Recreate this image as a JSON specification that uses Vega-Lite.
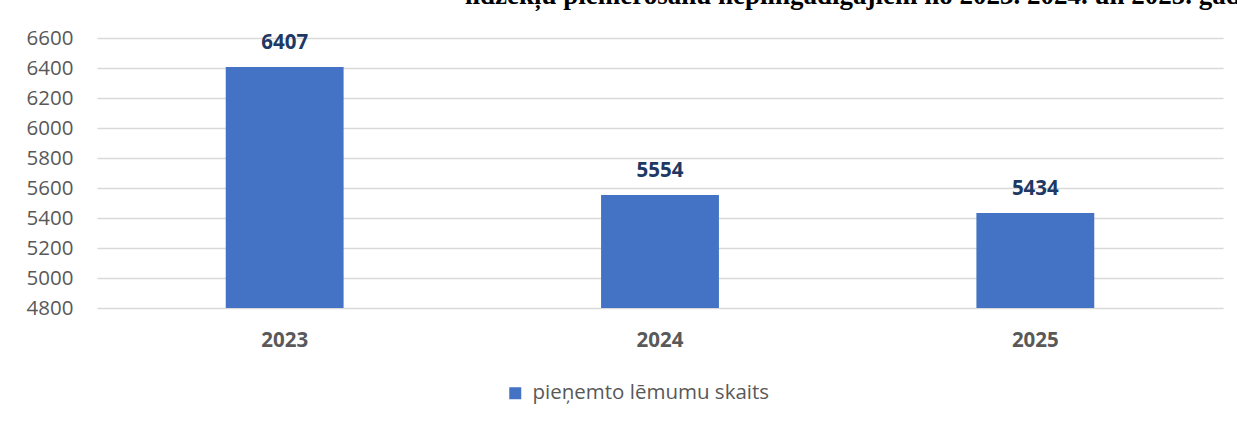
{
  "$schema": "https://vega.github.io/schema/vega-lite/v6.json",
  "width": 1126,
  "height": 270,
  "autosize": {"type": "none"},
  "padding": {"left": 97, "top": 38, "right": 14, "bottom": 115},
  "background": "white",
  "title": {
    "text": "līdzekļu piemērošanu nepilngadīgajiem no 2023. 2024. un 2025. gadam",
    "anchor": "start",
    "frame": "group",
    "font": "Liberation Serif",
    "fontWeight": "bold",
    "fontSize": 27,
    "color": "#000000",
    "baseline": "alphabetic",
    "dx": 368,
    "dy": 3,
    "offset": 0
  },
  "config": {
    "view": {"stroke": null},
    "font": "Open Sans"
  },
  "data": {
    "values": [
      {"gads": "2023", "skaits": 6407},
      {"gads": "2024", "skaits": 5554},
      {"gads": "2025", "skaits": 5434}
    ]
  },
  "encoding": {
    "x": {
      "field": "gads",
      "type": "nominal",
      "scale": {"paddingInner": 0.686, "paddingOuter": 0.343},
      "axis": {
        "title": null,
        "domain": false,
        "ticks": false,
        "grid": false,
        "labelAngle": 0,
        "labelFont": "Open Sans",
        "labelFontWeight": "bold",
        "labelFontSize": 20.5,
        "labelColor": "#595959",
        "labelPadding": 22
      }
    },
    "y": {
      "field": "skaits",
      "type": "quantitative",
      "scale": {"domain": [4800, 6600], "zero": false, "nice": false},
      "axis": {
        "title": null,
        "domain": false,
        "ticks": false,
        "grid": true,
        "gridColor": "#D9D9D9",
        "gridWidth": 1.3,
        "values": [4800, 5000, 5200, 5400, 5600, 5800, 6000, 6200, 6400, 6600],
        "format": "d",
        "labelFont": "Open Sans",
        "labelFontSize": 20.5,
        "labelColor": "#595959",
        "labelPadding": 24
      }
    }
  },
  "layer": [
    {
      "mark": {"type": "bar", "clip": true},
      "encoding": {
        "color": {
          "datum": "pieņemto lēmumu skaits",
          "type": "nominal",
          "scale": {"range": ["#4472C4"]},
          "legend": {
            "title": null,
            "orient": "none",
            "legendX": 408,
            "legendY": 345,
            "padding": 0,
            "symbolType": "square",
            "symbolSize": 144,
            "symbolStrokeWidth": 0,
            "labelOffset": 7,
            "labelFont": "Open Sans",
            "labelFontSize": 20.5,
            "labelColor": "#595959",
            "labelLimit": 400
          }
        }
      }
    },
    {
      "mark": {
        "type": "text",
        "baseline": "alphabetic",
        "dy": -18,
        "font": "Open Sans",
        "fontWeight": "bold",
        "fontSize": 20.5,
        "color": "#203864"
      },
      "encoding": {
        "text": {"field": "skaits", "type": "quantitative", "format": "d"}
      }
    }
  ]
}
